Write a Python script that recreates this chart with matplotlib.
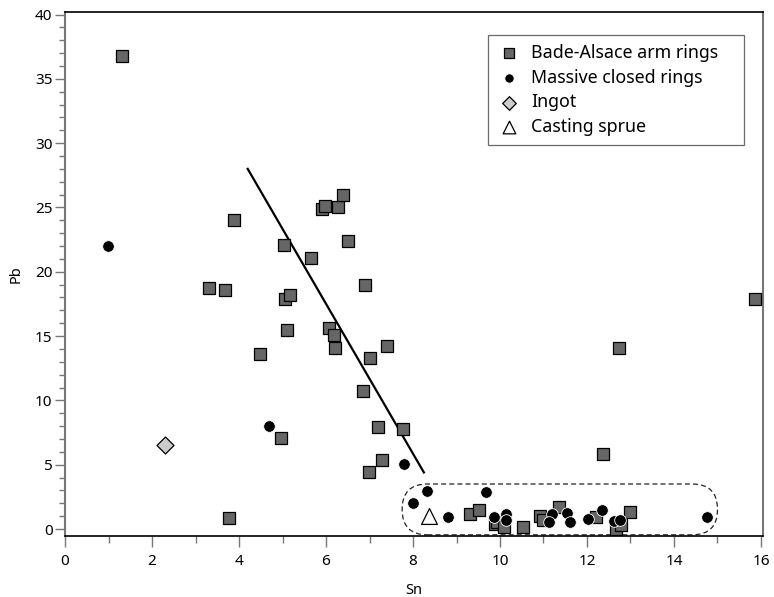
import matplotlib.pyplot as plt
from matplotlib.patches import FancyBboxPatch
from matplotlib.ticker import MultipleLocator

plt.rcParams['font.family'] = ['Noto Sans', 'DejaVu Sans']

# Bade-Alsace arm rings
sq_sn = [1.3, 3.31, 3.68, 3.89, 4.48, 4.97, 3.77, 5.03, 5.05, 5.17, 5.1, 5.66,
         5.91, 5.98, 6.28, 6.39, 6.51, 6.07, 6.18, 6.21, 6.9, 7.4, 7.01, 6.85,
         7.2, 7.77, 7.29, 6.99, 12.74, 15.86, 12.37, 9.31, 9.52, 9.89, 9.93,
         10.09, 10.53, 10.92, 10.99, 11.36, 12.21, 12.67, 12.78, 13.0]
sq_pb = [36.8, 18.7, 18.6, 24.0, 13.6, 7.1, 0.85, 22.1, 17.9, 18.2, 15.5, 21.1,
         24.9, 25.1, 25.0, 26.0, 22.4, 15.6, 15.1, 14.1, 19.0, 14.2, 13.3, 10.7,
         7.9, 7.8, 5.4, 4.4, 14.1, 17.9, 5.8, 1.2, 1.5, 0.4, 0.55,
         0.15, 0.15, 1.0, 0.7, 1.7, 0.9, 0.0, 0.3, 1.3]

# Massive closed rings
ci_sn = [0.99, 4.69, 7.79, 8.0, 8.32, 8.8, 9.68, 9.86, 10.14, 10.14, 11.2,
         11.13, 11.54, 11.61, 12.02, 12.34, 12.62, 12.76, 14.76]
ci_pb = [22.0, 8.0, 5.05, 2.0, 2.95, 0.93, 2.9, 0.93, 1.2, 0.7, 1.2,
         0.55, 1.25, 0.55, 0.8, 1.5, 0.6, 0.7, 0.9]

ingot_sn, ingot_pb = [2.3], [6.5]
sprue_sn, sprue_pb = [8.37], [1.0]

trend_sn = [4.2, 8.25]
trend_pb = [28.0, 4.4]

# dashed envelope around the low-Pb group: x0, y0, width, height
env = (7.75, -0.45, 7.25, 3.95)

fig = plt.figure(figsize=(7.74, 5.97), dpi=100)
ax = fig.add_axes([0.084, 0.102, 0.902, 0.878])

ax.plot(trend_sn, trend_pb, color='black', lw=1.6, zorder=2)

ax.scatter(sq_sn, sq_pb, marker='s', s=80, facecolor='#666666',
           edgecolor='black', linewidth=0.9, zorder=3, label='Bade-Alsace arm rings')
ax.scatter(ci_sn, ci_pb, marker='o', s=70, facecolor='black',
           edgecolor='white', linewidth=0.6, zorder=4, label='Massive closed rings')
ax.scatter(ingot_sn, ingot_pb, marker='D', s=75, facecolor='#cccccc',
           edgecolor='black', linewidth=0.9, zorder=3, label='Ingot')
ax.scatter(sprue_sn, sprue_pb, marker='^', s=130, facecolor='white',
           edgecolor='black', linewidth=0.9, zorder=3, label='Casting sprue')

box = FancyBboxPatch((env[0], env[1]), env[2], env[3],
                     boxstyle='round,pad=0,rounding_size=0.58',
                     mutation_aspect=3.39, fill=False, ls=(0, (4, 2.5)),
                     lw=0.9, edgecolor='#222222', zorder=1)
ax.add_patch(box)

ax.set_xlim(0, 16.05)
ax.set_ylim(-0.55, 40.2)
ax.xaxis.set_major_locator(MultipleLocator(2))
ax.xaxis.set_minor_locator(MultipleLocator(1))
ax.yaxis.set_major_locator(MultipleLocator(5))
ax.yaxis.set_minor_locator(MultipleLocator(1))
ax.tick_params(axis='x', which='major', length=8, width=1, color='#777777',
               labelsize=11, pad=5)
ax.tick_params(axis='x', which='minor', length=5, width=1, color='#777777')
ax.tick_params(axis='y', which='major', length=7, width=1, color='#777777',
               labelsize=11, pad=2)
ax.tick_params(axis='y', which='minor', length=4, width=1, color='#777777')

for side in ['left', 'right']:
    ax.spines[side].set_color('#777777')
    ax.spines[side].set_linewidth(1.5)
for side in ['top', 'bottom']:
    ax.spines[side].set_color('black')
    ax.spines[side].set_linewidth(1.2)

ax.set_xlabel('Sn', fontsize=10.5, labelpad=10)
ax.set_ylabel('Pb', fontsize=10.5, labelpad=8)

leg = ax.legend(loc='upper right', bbox_to_anchor=(0.606, 0.5, 0.367, 0.456),
                mode='expand', fontsize=12.8,
                frameon=True, fancybox=False, edgecolor='#444444',
                handletextpad=0.6, borderpad=0.5, labelspacing=0.38,
                borderaxespad=0, handlelength=1.3, markerscale=0.8)
leg.get_frame().set_linewidth(0.9)

fig.savefig('out.png', dpi=100)
